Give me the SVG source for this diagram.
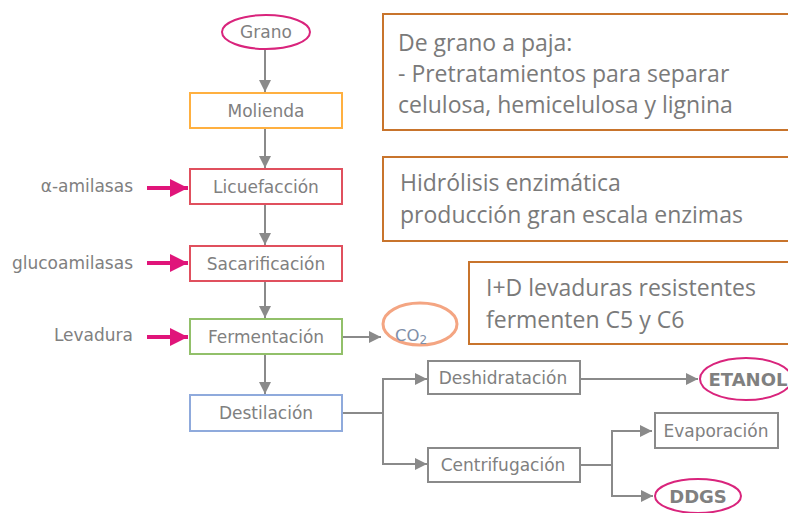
<svg xmlns="http://www.w3.org/2000/svg" width="788" height="513" viewBox="0 0 788 513">
<defs>
<marker id="ga" viewBox="0 0 10 10" refX="10" refY="5" markerWidth="6" markerHeight="6" markerUnits="strokeWidth" orient="auto"><path d="M0,0 L10,5 L0,10 z" fill="#8a8a8a"/></marker>
<marker id="pa" viewBox="0 0 10 10" refX="10" refY="5" markerWidth="4.5" markerHeight="4.5" markerUnits="strokeWidth" orient="auto"><path d="M0,0 L10,5 L0,10 z" fill="#e0157a"/></marker>
<style>
.n{font-family:"DejaVu Sans",Verdana,sans-serif;font-size:17px;fill:#808080;text-anchor:middle}
.l{font-family:"DejaVu Sans",Verdana,sans-serif;font-size:17px;fill:#808080;text-anchor:end}
.b{font-weight:bold;font-size:18px}
.c{stroke:#8a8a8a;stroke-width:2;fill:none}
.p{stroke:#e0157a;stroke-width:4;fill:none}
.ob{fill:#fff;stroke:#c8742c;stroke-width:2}
.t{font-family:"Open Sans","Liberation Sans",sans-serif;font-size:23px;fill:#7a7a7a}
.gb{fill:#fff;stroke:#8a8a8a;stroke-width:2}
</style>
</defs>
<rect width="788" height="513" fill="#fff"/>
<g id="connectors">
<line class="c" x1="265" y1="50" x2="265" y2="92" marker-end="url(#ga)"/>
<line class="c" x1="265" y1="128" x2="265" y2="168" marker-end="url(#ga)"/>
<line class="c" x1="265" y1="204" x2="265" y2="245" marker-end="url(#ga)"/>
<line class="c" x1="265" y1="281" x2="265" y2="318" marker-end="url(#ga)"/>
<line class="c" x1="265" y1="354" x2="265" y2="394" marker-end="url(#ga)"/>
<line class="c" x1="342" y1="337" x2="381" y2="337" marker-end="url(#ga)"/>
<path class="c" d="M342,413 H383"/>
<path class="c" d="M383,464 V379 H427" marker-end="url(#ga)"/>
<path class="c" d="M383,413 V464 H427" marker-end="url(#ga)"/>
<line class="c" x1="580" y1="379" x2="698" y2="379" marker-end="url(#ga)"/>
<path class="c" d="M580,465 H612"/>
<path class="c" d="M612,465 V431 H652" marker-end="url(#ga)"/>
<path class="c" d="M612,465 V496 H653" marker-end="url(#ga)"/>
<line class="p" x1="147" y1="188" x2="188" y2="188" marker-end="url(#pa)"/>
<line class="p" x1="147" y1="263" x2="188" y2="263" marker-end="url(#pa)"/>
<line class="p" x1="147" y1="337" x2="188" y2="337" marker-end="url(#pa)"/>
</g>
<g id="grano"><ellipse cx="266" cy="32" rx="44" ry="17" fill="#fff" stroke="#d9247c" stroke-width="2"/><text class="n" x="266" y="38">Grano</text></g>
<g id="molienda"><rect x="190" y="93" width="152" height="35" fill="#fff" stroke="#ffb040" stroke-width="2"/><text class="n" x="266" y="117">Molienda</text></g>
<g id="licuefaccion"><rect x="190" y="169" width="152" height="35" fill="#fff" stroke="#e0505e" stroke-width="2"/><text class="n" x="266" y="193">Licuefacción</text></g>
<g id="sacarificacion"><rect x="190" y="246" width="152" height="35" fill="#fff" stroke="#e0505e" stroke-width="2"/><text class="n" x="266" y="270">Sacarificación</text></g>
<g id="fermentacion"><rect x="190" y="319" width="152" height="35" fill="#fff" stroke="#92c06a" stroke-width="2"/><text class="n" x="266" y="343">Fermentación</text></g>
<g id="destilacion"><rect x="190" y="395" width="152" height="36" fill="#fff" stroke="#8faadc" stroke-width="2"/><text class="n" x="266" y="419">Destilación</text></g>
<g id="alfa"><text class="l" x="133" y="192">α-amilasas</text></g>
<g id="gluco"><text class="l" x="133" y="269">glucoamilasas</text></g>
<g id="levadura"><text class="l" x="133" y="341">Levadura</text></g>
<g id="co2"><ellipse cx="420" cy="324" rx="37" ry="21" fill="#fff" stroke="#f4a582" stroke-width="3"/><text x="395" y="341" font-family="'DejaVu Sans',sans-serif" font-size="16.5" fill="#7f8fa8">CO<tspan font-size="12" dy="3">2</tspan></text></g>
<g id="deshidratacion"><rect class="gb" x="428" y="361" width="152" height="33"/><text class="n" x="503" y="384">Deshidratación</text></g>
<g id="centrifugacion"><rect class="gb" x="428" y="448" width="152" height="34"/><text class="n" x="503" y="471">Centrifugación</text></g>
<g id="etanol"><ellipse cx="746" cy="379" rx="46" ry="21" fill="#fff" stroke="#d9247c" stroke-width="2"/><text class="n b" x="748" y="386">ETANOL</text></g>
<g id="evaporacion"><rect class="gb" x="655" y="413" width="123" height="35"/><text class="n" x="716" y="437">Evaporación</text></g>
<g id="ddgs"><ellipse cx="698" cy="496" rx="43" ry="17" fill="#fff" stroke="#d9247c" stroke-width="2"/><text class="n b" x="698" y="503">DDGS</text></g>
<g id="nota1"><rect class="ob" x="383" y="14" width="420" height="116"/><text class="t" x="398" y="51">De grano a paja:</text><text class="t" x="398" y="82">- Pretratamientos para separar</text><text class="t" x="398" y="113">celulosa, hemicelulosa y lignina</text></g>
<g id="nota2"><rect class="ob" x="383" y="157" width="420" height="84"/><text class="t" x="400" y="191">Hidrólisis enzimática</text><text class="t" x="400" y="223">producción gran escala enzimas</text></g>
<g id="nota3"><rect class="ob" x="469" y="262" width="334" height="82"/><text class="t" x="486" y="296">I+D levaduras resistentes</text><text class="t" x="486" y="328">fermenten C5 y C6</text></g>
</svg>
